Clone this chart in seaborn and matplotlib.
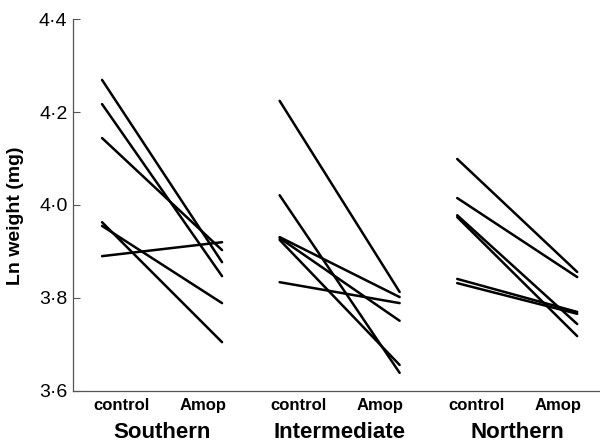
import matplotlib
matplotlib.use("Agg")
import matplotlib.pyplot as plt
import numpy as np
import pandas as pd
import seaborn as sns
from matplotlib.ticker import FuncFormatter

# data (ln weight, mg)
groups = ["Southern", "Intermediate", "Northern"]
treatments = ["control", "Amop"]

southern_control = [4.269, 4.217, 4.144, 3.963, 3.955, 3.890]
southern_amop = [3.877, 3.847, 3.903, 3.705, 3.789, 3.920]

intermediate_control = [4.224, 4.021, 3.931, 3.929, 3.925, 3.834]
intermediate_amop = [3.813, 3.639, 3.802, 3.751, 3.656, 3.789]

northern_control = [4.099, 4.015, 3.978, 3.974, 3.841, 3.832]
northern_amop = [3.856, 3.845, 3.744, 3.718, 3.770, 3.766]

y_ticks = [3.6, 3.8, 4.0, 4.2, 4.4]

# layout: x position of each group's control column
group_start = {"Southern": 0.0, "Intermediate": 1.48, "Northern": 2.96}
label_shift = 0.16  # treatment labels sit a bit inside the line ends

rows = []
pairs = {
    "Southern": (southern_control, southern_amop),
    "Intermediate": (intermediate_control, intermediate_amop),
    "Northern": (northern_control, northern_amop),
}
for g in groups:
    ctrl, amop = pairs[g]
    for i, (c, a) in enumerate(zip(ctrl, amop)):
        rows.append({"group": g, "unit": f"{g}_{i}", "treatment": "control",
                     "x": group_start[g], "weight": c})
        rows.append({"group": g, "unit": f"{g}_{i}", "treatment": "Amop",
                     "x": group_start[g] + 1, "weight": a})
df = pd.DataFrame(rows)

sns.set_style("white")
plt.rcParams['font.family'] = ['Liberation Sans', 'DejaVu Sans']
plt.rcParams['text.color'] = 'black'
plt.rcParams['axes.labelcolor'] = 'black'
plt.rcParams['xtick.color'] = 'black'
plt.rcParams['ytick.color'] = 'black'

fig = plt.figure(figsize=(6, 4.42), dpi=100)
ax = fig.add_axes([0.1217, 0.1154, 0.8783, 0.8416])

sns.lineplot(data=df, x="x", y="weight", units="unit", estimator=None,
             color="black", linewidth=1.8, ax=ax, legend=False)

ax.set_xlim(-0.242, 4.15)
ax.set_ylim(3.6, 4.4)
ax.set_yticks(y_ticks)
ax.yaxis.set_major_formatter(FuncFormatter(lambda v, p: f"{v:.1f}".replace(".", "\u00b7")))
ax.tick_params(axis="y", left=True, direction="in", length=5, width=0.8,
               color="#555555", labelsize=14, pad=4)

xt = []
xl = []
for g in groups:
    xt += [group_start[g] + label_shift, group_start[g] + 1 - label_shift]
    xl += treatments
ax.set_xticks(xt)
ax.set_xticklabels(xl, fontsize=12, fontweight="bold")
ax.tick_params(axis="x", bottom=False, length=0, pad=5)

for g in groups:
    ax.text(group_start[g] + 0.5, -0.111, g, transform=ax.get_xaxis_transform(),
            ha="center", va="center", fontsize=16, fontweight="bold")

ax.set_xlabel("")
ax.set_ylabel("Ln weight (mg)", fontsize=14, fontweight="bold")
ax.yaxis.set_label_coords(-0.093, 0.47)

sns.despine(ax=ax)
for s in ["left", "bottom"]:
    ax.spines[s].set_color("#555555")
    ax.spines[s].set_linewidth(0.9)

fig.savefig("out.png", dpi=100)
